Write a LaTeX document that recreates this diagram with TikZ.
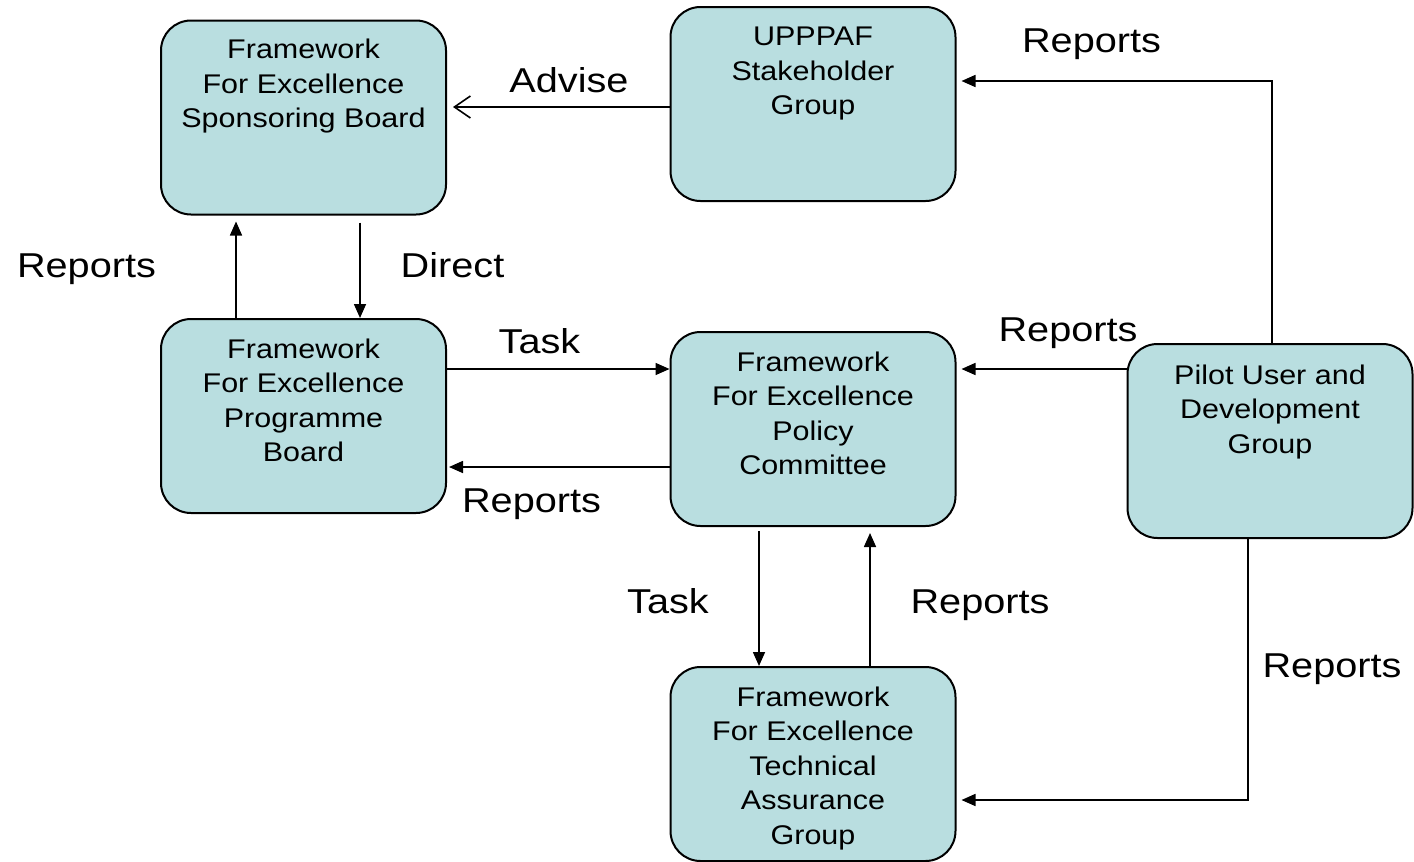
\documentclass[tikz,border=0pt]{standalone}
\usepackage{fontspec}
\setmainfont{Liberation Sans}
\usepackage{graphicx}
\usetikzlibrary{arrows.meta}
\definecolor{boxfill}{RGB}{185,222,224}
\newcommand{\bxt}[1]{\scalebox{1.13}[1]{\fontsize{13.5}{17.25}\selectfont\begin{tabular}[t]{@{}c@{}}#1\end{tabular}}}
\newcommand{\lbt}[1]{\scalebox{1.15}[1]{\fontsize{17.25}{20}\selectfont #1}}
\tikzset{
  gbox/.style={draw=black, line width=1pt, fill=boxfill, rounded corners=15pt,
    minimum width=142.5pt, minimum height=97pt, inner sep=0pt},
  btext/.style={anchor=base, inner sep=0pt},
  lbl/.style={anchor=base, inner sep=0pt},
  arr/.style={draw=black, line width=0.8pt, -{Triangle[length=7pt,width=6pt]}},
  oarr/.style={draw=black, line width=0.8pt, -{Straight Barb[length=8pt,width=11pt,line width=0.8pt]}}
}
\begin{document}
\begin{tikzpicture}[x=0.5pt,y=-0.5pt]
\useasboundingbox (0,0) rectangle (1414,862);
% boxes
\node[gbox] (spons) at (303.5,117.5) {};
\node[gbox] (upp)   at (813,104) {};
\node[gbox] (prog)  at (303.5,416) {};
\node[gbox] (pol)   at (813,429) {};
\node[gbox] (pilot) at (1270,441) {};
\node[gbox] (tech)  at (813,764) {};
% box texts
\node[btext] (spons-t) at ([yshift=-19.5pt]spons.north) {\bxt{Framework\\For Excellence\\Sponsoring Board}};
\node[btext] (upp-t) at ([yshift=-20pt]upp.north) {\bxt{UPPPAF\\Stakeholder\\Group}};
\node[btext] (prog-t) at ([yshift=-20pt]prog.north) {\bxt{Framework\\For Excellence\\Programme\\Board}};
\node[btext] (pol-t) at ([yshift=-20pt]pol.north) {\bxt{Framework\\For Excellence\\Policy\\Committee}};
\node[btext] (pilot-t) at ([yshift=-20.5pt]pilot.north) {\bxt{Pilot User and\\Development\\Group}};
\node[btext] (tech-t) at ([yshift=-20pt]tech.north) {\bxt{Framework\\For Excellence\\Technical\\Assurance\\Group}};
% connectors
\draw[oarr, shorten >=3pt] (upp.west |- 0,107) -- (spons.east |- 0,107);
\draw[arr, shorten >=3pt] (prog.north -| 236,0) -- (spons.south -| 236,0);
\draw[arr, shorten <=3.5pt] (spons.south -| 360,0) -- (prog.north -| 360,0);
\draw[arr] (prog.east |- 0,369) -- (pol.west |- 0,369);
\draw[arr, shorten >=1pt] (pol.west |- 0,467) -- (prog.east |- 0,467);
\draw[arr, shorten <=2pt] (pol.south -| 759,0) -- (tech.north -| 759,0);
\draw[arr, shorten >=3pt] (tech.north -| 870,0) -- (pol.south -| 870,0);
\draw[arr, shorten >=2.5pt] (pilot.west |- 0,369) -- (pol.east |- 0,369);
\draw[arr, shorten >=2.5pt] (pilot.north -| 1272,0) |- (upp.east |- 0,81);
\draw[arr, shorten >=2.5pt] (pilot.south -| 1248,0) |- (tech.east |- 0,800);
% labels
\node[lbl] (l-advise) at (569,92) {\lbt{Advise}};
\node[lbl] (l-rep1) at (86.5,277) {\lbt{Reports}};
\node[lbl] (l-direct) at (452.5,277) {\lbt{Direct}};
\node[lbl] (l-task1) at (539.5,353) {\lbt{Task}};
\node[lbl] (l-rep2) at (531.5,512) {\lbt{Reports}};
\node[lbl] (l-rep3) at (1068,341) {\lbt{Reports}};
\node[lbl] (l-rep4) at (1091.5,53) {\lbt{Reports}};
\node[lbl] (l-task2) at (668,613) {\lbt{Task}};
\node[lbl] (l-rep5) at (980,613) {\lbt{Reports}};
\node[lbl] (l-rep6) at (1332,677) {\lbt{Reports}};
\end{tikzpicture}
\end{document}
